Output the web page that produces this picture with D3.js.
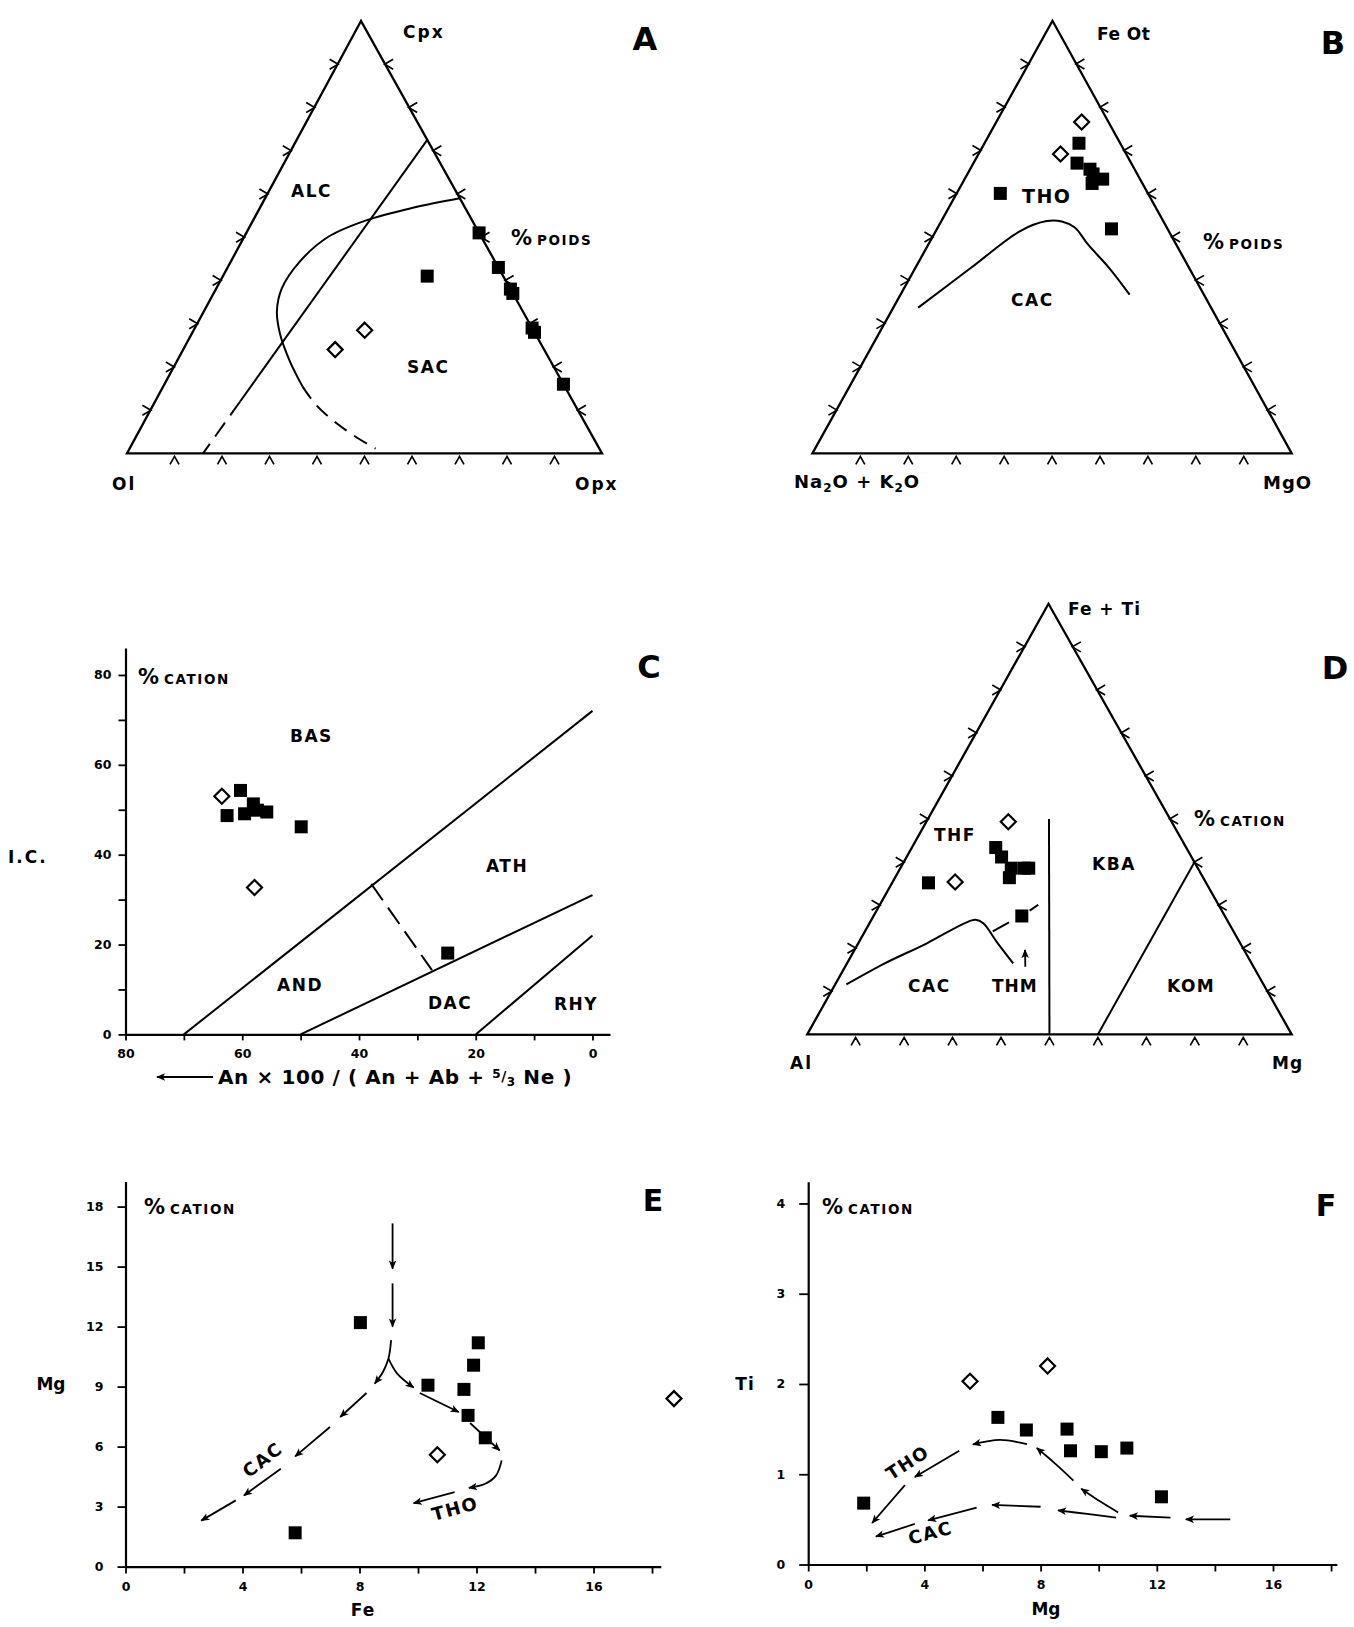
<!DOCTYPE html>
<html><head><meta charset="utf-8">
<script src="https://cdn.jsdelivr.net/npm/d3@7"></script>
<style>
body{margin:0;background:#fff}
svg{display:block}
text{font-family:"DejaVu Sans","Open Sans",sans-serif;font-weight:bold;fill:#000}
</style>
</head><body><script>
// ================= DATA =================
// Ternary points are [top, left, right] in percent.
// Panel A (wt%): top Cpx, left Ol, right Opx
const aSquares = [[51,0,49],[43,0,57],[38,0,62],[37,0,63],[29,0,71],[28,0,72],[16,0,84],[41,16,43]];
const aDiamonds = [[24,44,32],[28.5,35.5,36]];
const aLineSolid = [[72.5,0,27.5],[12,70.1,17.9]];
const aLineDashed = [[12,70.1,17.9],[0,84,16]];
const aCurveSolid = [[59,0,41],[56.8,11,32.2],[53.9,22.3,23.8],[50.1,32.2,17.7],[44.3,41.2,14.5],[38.1,48.1,13.8],[32.8,51.8,15.4],[27.5,53.8,18.7],[21.3,54.9,23.8],[15.5,55.2,29.3]];
const aCurveDashed = [[15.5,55.2,29.3],[11.2,54.5,34.3],[6.9,52.3,40.8],[3.5,49.6,46.9],[1.1,47.1,51.8]];

// Panel B (wt%): top FeOt, left Na2O+K2O, right MgO
const bSquares = [[71.7,8.6,19.7],[67.1,11.3,21.6],[65.7,9.3,25],[64.6,9.2,26.2],[63.4,7.8,28.8],[62.4,10.5,27.1],[51.9,11.7,36.4],[60.1,30.8,9.1]];
const bDiamonds = [[76.6,5.6,17.8],[69.2,13.7,17.1]];
const bCurve = [[33.7,61.1,5.2],[42.9,45.5,11.6],[51.4,31,17.6],[53.7,24.3,22],[53.6,21.2,25.2],[52.2,19.2,28.6],[48.3,18.4,33.3],[42.9,16.7,40.4],[36.7,15.5,47.8]];

// Panel C (cation %): x = An*100/(An+Ab+5/3Ne), y = I.C.
const cXTicks = [80,70,60,50,40,30,20,10,0];
const cYTicks = [0,10,20,30,40,50,60,70,80];
const cSquares = [[60.3,54.3],[62.6,48.7],[59.6,49.1],[58.1,51.3],[57.4,49.9],[55.8,49.5],[49.9,46.2],[24.8,18.1]];
const cDiamonds = [[63.5,53.0],[57.9,32.7]];
const cLine1 = [[70,0],[0,72]];
const cLine2 = [[50,0],[0,31]];
const cLine3 = [[20,0],[0,22]];
const cDashed = [[37.9,33.5],[27.5,14.3]];

// Panel D (cation %): top Fe+Ti, left Al, right Mg
const dSquares = [[43.4,39.3,17.3],[41.2,39.2,19.6],[38.6,38.5,22.9],[36.4,40,23.6],[38.6,35.8,25.6],[38.6,34.9,26.5],[35.2,57.3,7.5],[27.5,41.9,30.6]];
const dDiamonds = [[49.4,33.7,16.9],[35.4,51.7,12.9]];
const dCurve = [[11.6,86.1,2.3],[16.5,75.7,7.8],[21.1,64.8,14.1],[25.8,54.6,19.6],[26.6,51.9,21.5],[25.8,50.7,23.5],[21.5,50.1,28.4],[16.5,49.2,34.3]];
const dThm1 = [[23.9,49.7,26.4],[26,45.3,28.7]];
const dThm2 = [[28.75,39.65,31.6],[30.1,37.2,32.7]];
const dThmArrow = [[15.7,47.1,37.2],[19.6,45.2,35.2]];
const dKba = [[50,25,25],[0,50,50]];
const dKom = [[0,40,60],[40,0,60]];

// Panel E (cation %): x = Fe, y = Mg
const eXTicks = [2,4,6,8,10,12,14,16,18];
const eYTicks = [0,3,6,9,12,15,18];
const eSquares = [[8.03,12.2],[12.06,11.19],[11.9,10.07],[10.34,9.07],[11.57,8.86],[11.71,7.56],[12.3,6.44],[5.8,1.69]];
const eDiamonds = [[10.66,5.59],[18.75,8.4]];
const eArrows = [
  [[9.13,17.16],[9.13,14.9]],
  [[9.13,14.16],[9.13,12.0]],
  [[9.08,11.32],[8.99,10.4],[8.8,9.73],[8.52,9.15]],
  [[8.99,10.4],[9.29,9.65],[9.85,8.95]],
  [[10.06,8.68],[11.39,7.73]],
  [[11.78,7.18],[12.79,5.81]],
  [[12.86,5.31],[12.67,4.56],[12.3,4.14],[11.74,3.94]],
  [[11.25,3.72],[9.85,3.17]],
  [[8.24,8.68],[7.34,7.48]],
  [[6.99,6.98],[5.8,5.51]],
  [[5.31,4.89],[4.05,3.56]],
  [[3.77,3.31],[2.59,2.30]]
];

// Panel F (cation %): x = Mg, y = Ti
const fXTicks = [2,4,6,8,10,12,14,16,18];
const fYTicks = [0,1,2,3,4];
const fSquares = [[6.53,1.63],[7.51,1.49],[8.91,1.50],[9.03,1.26],[10.09,1.25],[10.97,1.29],[12.16,0.75],[1.91,0.68]];
const fDiamonds = [[5.57,2.03],[8.24,2.2]];
const fArrows = [
  [[14.53,0.50],[13.0,0.50]],
  [[12.47,0.52],[11.07,0.54]],
  [[10.67,0.577],[10.07,0.694],[9.4,0.84]],
  [[9.13,0.93],[8.53,1.11],[7.87,1.29]],
  [[7.53,1.333],[6.6,1.38],[5.67,1.33]],
  [[5.2,1.26],[3.67,0.97]],
  [[3.33,0.88],[2.2,0.46]],
  [[10.6,0.52],[9.6,0.56],[8.6,0.6]],
  [[8.0,0.64],[6.33,0.66]],
  [[5.8,0.63],[4.13,0.49]],
  [[3.67,0.45],[2.33,0.31]]
];

// ================= DRAWING =================
const svg = d3.select("body").append("svg").attr("width",1354).attr("height",1627);
svg.append("rect").attr("width",1354).attr("height",1627).attr("fill","#fff");
const defs = svg.append("defs");
defs.append("marker").attr("id","ah").attr("viewBox","0 0 10 10")
  .attr("refX",9).attr("refY",5).attr("markerWidth",10).attr("markerHeight",9)
  .attr("markerUnits","userSpaceOnUse").attr("orient","auto")
  .append("path").attr("d","M0,0.8 L10,5 L0,9.2 L2.5,5 Z").attr("fill","#000");

function ternary(L, R, Tp){
  const sx = d3.scaleLinear().domain([0,100]).range([L[0], R[0]]);
  const sy = d3.scaleLinear().domain([0,100]).range([L[1], Tp[1]]);
  const sh = d3.scaleLinear().domain([0,100]).range([0, Tp[0]-(L[0]+R[0])/2]);
  return d => [sx(d[2] + d[0]/2) + sh(d[0]), sy(d[0])];
}
function line(g, pts, proj, opt={}){
  const gen = d3.line().x(d=>proj(d)[0]).y(d=>proj(d)[1]);
  if(opt.curve) gen.curve(opt.curve);
  const p = g.append("path").attr("d", gen(pts)).attr("fill","none")
    .attr("stroke","#000").attr("stroke-width", opt.w||2).attr("stroke-linecap","butt").attr("stroke-linejoin","round");
  if(opt.dash) p.attr("stroke-dasharray", opt.dash);
  if(opt.arrow) p.attr("marker-end","url(#ah)");
  return p;
}
function squares(g, pts, proj, s=13){
  g.selectAll(null).data(pts).join("rect")
    .attr("x",d=>proj(d)[0]-s/2).attr("y",d=>proj(d)[1]-s/2)
    .attr("width",s).attr("height",s).attr("fill","#000");
}
function diamonds(g, pts, proj, r=7.5){
  g.selectAll(null).data(pts).join("path")
    .attr("d",d=>{const p=proj(d);return `M${p[0]},${p[1]-r}L${p[0]+r},${p[1]}L${p[0]},${p[1]+r}L${p[0]-r},${p[1]}Z`;})
    .attr("fill","#fff").attr("stroke","#000").attr("stroke-width",2.2);
}
function text(g, x, y, s, size, opt={}){
  const t = g.append("text").attr("x",x).attr("y",y).attr("font-size",size)
    .attr("text-anchor", opt.anchor||"start").text(s);
  if(opt.ls) t.attr("letter-spacing", opt.ls);
  if(opt.rot) t.attr("transform", `rotate(${opt.rot},${x},${y})`);
  return t;
}
function pctLabel(g, x, y, word){
  const t = g.append("text").attr("x",x).attr("y",y);
  t.append("tspan").attr("font-size",21).text("%");
  t.append("tspan").attr("font-size",13.5).attr("letter-spacing",1.6).attr("dx",5).text(word);
}
function triFrame(g, proj){
  const c = [[100,0,0],[0,100,0],[0,0,100]].map(proj);
  g.append("path").attr("d", d3.line()(c)+"Z").attr("fill","none").attr("stroke","#000")
    .attr("stroke-width",2.3).attr("stroke-linejoin","miter");
  let d = "";
  d3.range(10,100,10).forEach(v=>{
    let p = proj([v,100-v,0]);
    d += `M${p[0]-8},${p[1]-5}L${p[0]+0.5},${p[1]}L${p[0]-8},${p[1]+5}`;
    p = proj([v,0,100-v]);
    d += `M${p[0]+8},${p[1]-5}L${p[0]-0.5},${p[1]}L${p[0]+8},${p[1]+5}`;
    p = proj([0,100-v,v]);
    d += `M${p[0]-4.5},${p[1]+11}L${p[0]},${p[1]+3}L${p[0]+4.5},${p[1]+11}`;
  });
  g.append("path").attr("d",d).attr("fill","none").attr("stroke","#000").attr("stroke-width",1.7);
}
function styleAxis(sel){
  sel.select(".domain").attr("stroke-width",2.2);
  sel.selectAll(".tick line").attr("stroke-width",1.8);
  sel.selectAll(".tick text").attr("font-size",12.5).attr("font-weight","bold")
    .attr("font-family",'"DejaVu Sans","Open Sans",sans-serif');
}
const cr = d3.curveCatmullRom.alpha(0.5);
const fmtInt = d3.format("d");

// ---------- Panel A ----------
{
  const g = svg.append("g");
  const P = ternary([127,453.4],[602,453.4],[361,21]);
  triFrame(g, P);
  line(g, aLineSolid, P);
  line(g, aLineDashed, P, {dash:"17,9"});
  line(g, aCurveSolid, P, {curve:cr});
  line(g, aCurveDashed, P, {curve:cr, dash:"15,9"});
  squares(g, aSquares, P);
  diamonds(g, aDiamonds, P);
  text(g, 403, 38, "Cpx", 17, {ls:2});
  text(g, 112, 490, "Ol", 17, {ls:2});
  text(g, 575, 490, "Opx", 17, {ls:2});
  pctLabel(g, 511, 245, "POIDS");
  text(g, 291, 197, "ALC", 17, {ls:1.5});
  text(g, 407, 373, "SAC", 17, {ls:1.5});
  text(g, 645, 50, "A", 32, {anchor:"middle"});
}
// ---------- Panel B ----------
{
  const g = svg.append("g");
  const P = ternary([812.4,453.4],[1291.7,453.4],[1052.5,20.8]);
  triFrame(g, P);
  line(g, bCurve, P, {curve:cr});
  squares(g, bSquares, P);
  diamonds(g, bDiamonds, P);
  text(g, 1097, 40, "Fe Ot", 17, {ls:0.5});
  const t = g.append("text").attr("x",794).attr("y",488).attr("font-size",18).attr("letter-spacing",1);
  t.append("tspan").text("Na");
  t.append("tspan").attr("font-size",12).attr("dy",4).text("2");
  t.append("tspan").attr("dy",-4).text("O + K");
  t.append("tspan").attr("font-size",12).attr("dy",4).text("2");
  t.append("tspan").attr("dy",-4).text("O");
  text(g, 1263, 489, "MgO", 18, {ls:1});
  pctLabel(g, 1203, 249, "POIDS");
  text(g, 1022, 203, "THO", 19, {ls:1.5});
  text(g, 1011, 306, "CAC", 17, {ls:1.5});
  text(g, 1333, 54, "B", 32, {anchor:"middle"});
}
// ---------- Panel C ----------
{
  const g = svg.append("g");
  const x = d3.scaleLinear().domain([80,-3]).range([125.5,610]);
  const y = d3.scaleLinear().domain([0,86]).range([1034.4,648]);
  const P = d => [x(d[0]), y(d[1])];
  const ax = g.append("g").attr("transform","translate(0,1034.4)")
    .call(d3.axisBottom(x).tickValues(cXTicks).tickSizeInner(6).tickSizeOuter(0)
      .tickFormat(d => d%20===0 ? d : ""));
  ax.selectAll(".tick text").attr("y",15);
  styleAxis(ax);
  const ay = g.append("g").attr("transform","translate(125.5,0)")
    .call(d3.axisLeft(y).tickValues(cYTicks).tickSizeInner(7).tickSizeOuter(0)
      .tickFormat(d => d%20===0 ? d : ""));
  ay.selectAll(".tick text").attr("x",-14);
  styleAxis(ay);
  line(g, cLine1, P);
  line(g, cLine2, P);
  line(g, cLine3, P);
  line(g, cDashed, P, {dash:"20,9"});
  squares(g, cSquares, P);
  diamonds(g, cDiamonds, P);
  pctLabel(g, 138, 684, "CATION");
  text(g, 290, 742, "BAS", 17, {ls:1.5});
  text(g, 486, 872, "ATH", 17, {ls:1.5});
  text(g, 277, 991, "AND", 17, {ls:1.5});
  text(g, 428, 1009, "DAC", 17, {ls:1.5});
  text(g, 554, 1010, "RHY", 17, {ls:1.5});
  text(g, 649, 678, "C", 32, {anchor:"middle"});
  text(g, 8, 863, "I.C.", 17, {ls:2});
  // x title with arrow
  g.append("path").attr("d","M213,1077 L157,1077").attr("stroke","#000").attr("stroke-width",2)
    .attr("marker-end","url(#ah)");
  const t = g.append("text").attr("x",218).attr("y",1084).attr("font-size",20).attr("letter-spacing",0.6);
  t.append("tspan").text("An × 100 / ( An + Ab + ");
  t.append("tspan").attr("font-size",12).attr("dy",-6).text("5");
  t.append("tspan").attr("font-size",14).attr("dy",3).text("/");
  t.append("tspan").attr("font-size",12).attr("dy",5).text("3");
  t.append("tspan").attr("dy",-2).text(" Ne )");
}
// ---------- Panel D ----------
{
  const g = svg.append("g");
  const P = ternary([807.2,1034.4],[1291.7,1034.4],[1048.5,603.8]);
  triFrame(g, P);
  line(g, dCurve, P, {curve:d3.curveCatmullRom.alpha(0.5)});
  line(g, dThm1, P);
  line(g, dThm2, P);
  line(g, dThmArrow, P, {arrow:true, w:1.8});
  line(g, dKba, P);
  line(g, dKom, P);
  squares(g, dSquares, P);
  diamonds(g, dDiamonds, P);
  text(g, 1068, 615, "Fe + Ti", 17, {ls:1});
  text(g, 790, 1069, "Al", 17, {ls:2});
  text(g, 1272, 1069, "Mg", 17, {ls:1});
  pctLabel(g, 1194, 826, "CATION");
  text(g, 934, 841, "THF", 17, {ls:1.5});
  text(g, 1092, 870, "KBA", 17, {ls:1.5});
  text(g, 908, 992, "CAC", 17, {ls:1.5});
  text(g, 992, 992, "THM", 17, {ls:1});
  text(g, 1167, 992, "KOM", 17, {ls:1.5});
  text(g, 1335, 679, "D", 32, {anchor:"middle"});
}
// ---------- Panel E ----------
{
  const g = svg.append("g");
  const x = d3.scaleLinear().domain([0,18.3]).range([125.5,660.8]);
  const y = d3.scaleLinear().domain([0,19.25]).range([1566.6,1181.6]);
  const P = d => [x(d[0]), y(d[1])];
  const ax = g.append("g").attr("transform","translate(0,1566.6)")
    .call(d3.axisBottom(x).tickValues([0].concat(eXTicks)).tickSizeInner(7).tickSizeOuter(0)
      .tickFormat(d => d%4===0 ? d : ""));
  ax.selectAll(".tick text").attr("y",16);
  styleAxis(ax);
  const ay = g.append("g").attr("transform","translate(125.5,0)")
    .call(d3.axisLeft(y).tickValues(eYTicks).tickSizeInner(8).tickSizeOuter(0).tickFormat(fmtInt));
  ay.selectAll(".tick text").attr("x",-22);
  styleAxis(ay);
  eArrows.forEach(a => line(g, a, P, {arrow:true, w:1.8, curve: a.length>2 ? cr : null}));
  squares(g, eSquares, P);
  diamonds(g, eDiamonds, P);
  pctLabel(g, 144, 1214, "CATION");
  text(g, 653, 1211, "E", 30, {anchor:"middle"});
  text(g, 51, 1390, "Mg", 17, {anchor:"middle"});
  text(g, 363, 1616, "Fe", 17, {anchor:"middle", ls:1});
  text(g, x(4.82), y(5.39)+6, "CAC", 18, {anchor:"middle", rot:-38, ls:1.5});
  text(g, x(11.32), y(2.89)+6, "THO", 18, {anchor:"middle", rot:-15, ls:1.5});
}
// ---------- Panel F ----------
{
  const g = svg.append("g");
  const x = d3.scaleLinear().domain([0,18.2]).range([808.2,1336.9]);
  const y = d3.scaleLinear().domain([0,4.24]).range([1564.5,1181.8]);
  const P = d => [x(d[0]), y(d[1])];
  const ax = g.append("g").attr("transform","translate(0,1564.5)")
    .call(d3.axisBottom(x).tickValues([0].concat(fXTicks)).tickSizeInner(7).tickSizeOuter(0)
      .tickFormat(d => d%4===0 ? d : ""));
  ax.selectAll(".tick text").attr("y",16);
  styleAxis(ax);
  const ay = g.append("g").attr("transform","translate(808.2,0)")
    .call(d3.axisLeft(y).tickValues(fYTicks).tickSizeInner(9).tickSizeOuter(0).tickFormat(fmtInt));
  ay.selectAll(".tick text").attr("x",-23);
  styleAxis(ay);
  fArrows.forEach(a => line(g, a, P, {arrow:true, w:1.8, curve: a.length>2 ? cr : null}));
  squares(g, fSquares, P);
  diamonds(g, fDiamonds, P);
  pctLabel(g, 822, 1214, "CATION");
  text(g, 1326, 1216, "F", 30, {anchor:"middle"});
  text(g, 745, 1390, "Ti", 17, {anchor:"middle", ls:1});
  text(g, 1046, 1615, "Mg", 17, {anchor:"middle"});
  text(g, 911, 1468, "THO", 18, {anchor:"middle", rot:-33, ls:1.5});
  text(g, 932, 1539, "CAC", 18, {anchor:"middle", rot:-15, ls:1.5});
}
</script></body></html>
